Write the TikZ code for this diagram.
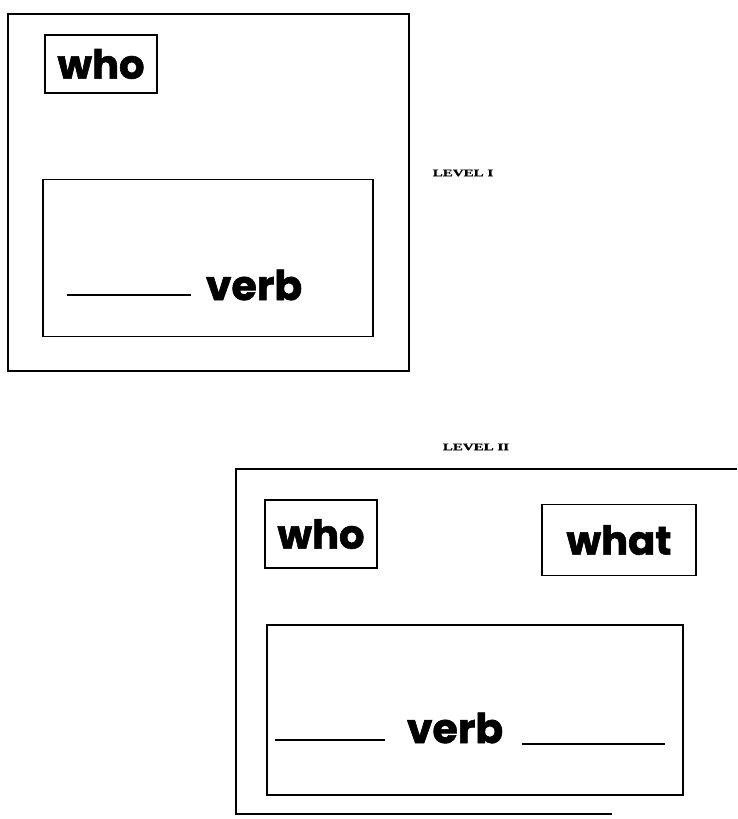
\documentclass[tikz,border=0pt]{standalone}
\usepackage{fontspec}
\newfontfamily\wordfont{Poppins}[BoldFeatures={FakeBold=1.5}]
\newfontfamily\labelfont{Liberation Serif}[BoldFeatures={FakeBold=1}]
\begin{document}
\begin{tikzpicture}[
  x=1pt, y=-1pt,
  frame/.style={draw=black, line width=1.6pt},
  wordbox/.style={draw=black, line width=1.5pt, inner sep=0pt,
                  font=\wordfont\bfseries\fontsize{40}{40}\selectfont},
  slot/.style={draw=black, line width=1.6pt, inner sep=0pt},
  word/.style={font=\wordfont\bfseries\fontsize{41}{41}\selectfont, inner sep=0pt,
               anchor=base},
  level/.style={font=\labelfont\bfseries\fontsize{10}{10}\selectfont, xscale=1.5},
  blank/.style={line width=1.3pt},
]
  \useasboundingbox (0,0) rectangle (737,819);

  % level I
  \draw[frame] (8,14) rectangle (409,371);
  \node[wordbox, minimum width=112pt, minimum height=58pt] (whoA) at (101,64) {\raisebox{-4pt}{who}};
  \node[slot, minimum width=330pt, minimum height=157pt] (slotA) at (208,258) {};
  \node[word] (verbA) at (254,300) {verb};
  \draw[blank] (67,295) -- (191,295);
  \node[level] (levelA) at (463,173) {LEVEL I};

  % level II
  \node[level] (levelB) at (476,447) {LEVEL II};
  \draw[frame] (737,469) -- (236,469) -- (236,814) -- (612,814);
  \node[wordbox, minimum width=112pt, minimum height=68pt] (whoB) at (321,534) {\raisebox{-2pt}{who}};
  \node[wordbox, minimum width=154pt, minimum height=71pt] (whatB) at (619,540) {\raisebox{-2pt}{what}};
  \node[slot, minimum width=416pt, minimum height=170pt] (slotB) at (475,710) {};
  \node[word] (verbB) at (455,743) {verb};
  \draw[blank] (275,740) -- (385,740);
  \draw[blank] (522,744) -- (665,744);
\end{tikzpicture}
\end{document}
